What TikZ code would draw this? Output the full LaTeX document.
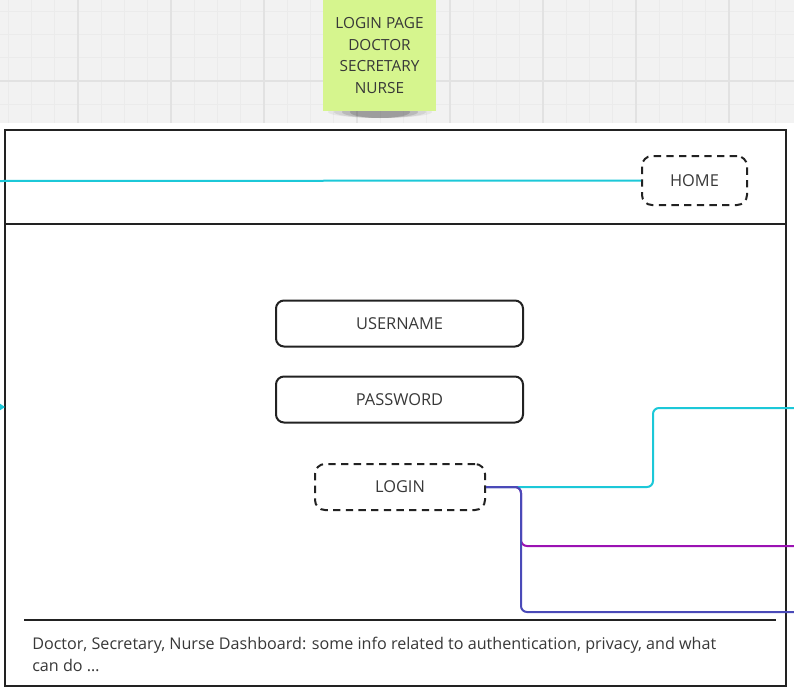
\documentclass[tikz,border=0pt]{standalone}
\usepackage{fontspec}
\setmainfont{Open Sans}
\usetikzlibrary{arrows.meta}
\definecolor{board}{HTML}{F2F2F2}
\definecolor{gridminor}{HTML}{EBEBEB}
\definecolor{gridmajor}{HTML}{E2E2E2}
\definecolor{sticky}{HTML}{D6F58E}
\definecolor{ink}{HTML}{222222}
\definecolor{linkcyan}{HTML}{1CC8D8}
\definecolor{linkpurple}{HTML}{9B12B3}
\definecolor{linkblue}{HTML}{4A4AB8}
\tikzset{
  field/.style={draw=ink, line width=1.5pt, rounded corners=6pt, minimum width=185.25pt, minimum height=34.5pt},
  btn/.style={draw=ink, line width=1.5pt, dash pattern=on 5.5pt off 4pt, rounded corners=7.5pt},
  wire/.style={line width=1.5pt, rounded corners=4.5pt}
}
\begin{document}
\begin{tikzpicture}[x=0.75pt, y=-0.75pt, font=\fontsize{12.3}{16.5}\selectfont, text=ink!90]
\useasboundingbox (0,0) rectangle (794,689);
% board with grid
\fill[white] (0,0) rectangle (794,689);
\fill[board] (0,0) rectangle (794,123);
\foreach \k in {0,...,33}
  \draw[gridminor, line width=0.75pt] ({8.25+23.25*\k},0) -- ({8.25+23.25*\k},123);
\foreach \y in {11.25,34.5,57.75,104.25}
  \draw[gridminor, line width=0.75pt] (0,\y) -- (794,\y);
\foreach \x in {78,171,...,729}
  \draw[gridmajor, line width=0.9pt] (\x,0) -- (\x,123);
\draw[gridmajor, line width=0.9pt] (0,81) -- (794,81);
% sticky note
\foreach \r/\o in {52/0.05,46/0.08,38/0.12,30/0.15}
  \fill[black, opacity=\o] (380,112) ellipse [x radius=\r, y radius=6];
\node[fill=sticky, minimum width=84.75pt, minimum height=83.25pt, inner sep=0, align=center,
  font=\fontsize{11.5}{16.3}\selectfont] (note) at (379.5,55.5) {LOGIN PAGE\\DOCTOR\\SECRETARY\\NURSE};
% page frame
\draw[ink, line width=1.5pt] (5,130) rectangle (786,686);
\draw[ink, line width=1.5pt] (5,224) -- (786,224);
\draw[ink, line width=1.5pt] (24,620) -- (776,620);
% nodes
\node[btn, minimum width=78.75pt, minimum height=36.75pt] (home) at (694.5,180.5) {HOME};
\node[field] (user) at (399.5,323.5) {USERNAME};
\node[field] (pass) at (399.5,399.5) {PASSWORD};
\node[btn, minimum width=127.5pt, minimum height=34.5pt] (login) at (400,487) {LOGIN};
\node[anchor=north west, inner sep=0, align=left, font=\fontsize{12.1}{16.5}\selectfont] (footnote) at (32,636.5) {Doctor, Secretary, Nurse Dashboard: some info related to authentication, privacy, and what\\can do \dots};
% links
\coordinate (hdrin) at (0,181);
\coordinate (sidein) at (0,407);
\coordinate (sideout) at (5,407);
\coordinate (outcyan) at (794,408);
\coordinate (outpurple) at (794,546);
\coordinate (outblue) at (794,612);
\draw[wire, linkcyan] (hdrin) -- (home.west);
\draw[linkcyan, line width=1.5pt, -{Triangle[length=4pt, width=5pt]}] (sidein) -- (sideout);
\draw[wire, linkcyan] (login.east) -- (653,487) -- (653,408) -- (outcyan);
\draw[wire, linkpurple] (login.east) -- (521,487) -- (521,546) -- (outpurple);
\draw[wire, linkblue] (login.east) -- (521,487) -- (521,612) -- (outblue);
\end{tikzpicture}
\end{document}
